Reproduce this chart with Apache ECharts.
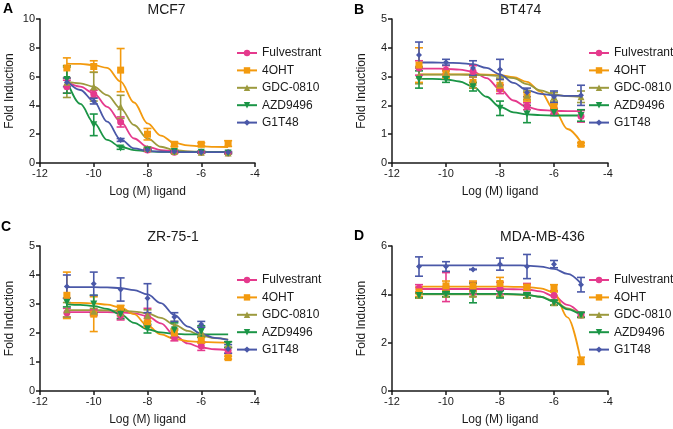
<!DOCTYPE html>
<html>
<head>
<meta charset="utf-8">
<script src="https://cdn.jsdelivr.net/npm/echarts@6/dist/echarts.min.js"></script>
<style>
html, body { margin: 0; padding: 0; background: #fff; }
#container { width: 673px; height: 429px; }
</style>
</head>
<body>
<div id="container"></div>
<script>
// dose points (log M) and the x positions used to trace the fitted curves
var doses = [-11, -10, -9, -8, -7, -6, -5];
var curveX = [-11, -10.5, -10, -9.5, -9, -8.5, -8, -7.5, -7, -6.5, -6, -5.5, -5];

var drugs = ['Fulvestrant', '4OHT', 'GDC-0810', 'AZD9496', 'G1T48'];
var colors = ['#e53a8d', '#f39a0e', '#9c9a3e', '#1b9546', '#4a58a8'];
var symbols = ['circle', 'rect', 'triangle', 'triangle', 'diamond'];
var rotates = [0, 0, 0, 180, 0];

var panelTitles = ['MCF7', 'BT474', 'ZR-75-1', 'MDA-MB-436'];
var panelLetters = ['A', 'B', 'C', 'D'];
var yMax = [10, 5, 5, 6];
var yStep = [2, 1, 1, 2];

// A: MCF7
var mcf7Mean = [
    [5.3, 4.8, 2.85, 0.9, 0.75, 0.75, 0.7],
    [6.6, 6.7, 6.45, 2.0, 1.3, 1.3, 1.35],
    [5.6, 5.3, 3.9, 1.0, 0.8, 0.75, 0.7],
    [5.8, 2.65, 1.05, 0.9, 0.8, 0.75, 0.7],
    [5.6, 4.3, 1.6, 0.9, 0.8, 0.75, 0.75]
];
var mcf7Err = [
    [0.45, 0.25, 0.35, 0.1, 0.08, 0.05, 0.05],
    [0.7, 0.4, 1.5, 0.4, 0.15, 0.1, 0.2],
    [1.05, 1.0, 0.8, 0.1, 0.1, 0.05, 0.05],
    [0.95, 0.75, 0.1, 0.05, 0.05, 0.05, 0.05],
    [0.3, 0.2, 0.1, 0.05, 0.05, 0.05, 0.05]
];
var mcf7Fit = [
    [5.65, 5.3, 4.84, 3.9, 2.87, 1.7, 1.13, 0.9, 0.83, 0.78, 0.76, 0.75, 0.75],
    [6.9, 6.88, 6.8, 6.6, 5.65, 4.2, 2.75, 1.9, 1.4, 1.23, 1.15, 1.12, 1.11],
    [5.65, 5.53, 5.3, 4.72, 3.8, 2.64, 1.71, 1.13, 0.9, 0.81, 0.78, 0.76, 0.75],
    [5.75, 4.1, 2.8, 1.6, 1.13, 0.9, 0.81, 0.78, 0.76, 0.75, 0.75, 0.75, 0.75],
    [5.7, 5.07, 4.3, 2.87, 1.64, 1.02, 0.83, 0.78, 0.76, 0.75, 0.75, 0.75, 0.75]
];

// B: BT474
var bt474Mean = [
    [3.3, 3.23, 3.18, 2.56, 1.97, 1.8, 1.62],
    [3.4, 3.1, 2.8, 2.7, 2.3, 1.95, 0.65],
    [3.05, 3.1, 2.8, 2.75, 2.35, 2.3, 2.3],
    [2.9, 2.9, 2.65, 1.9, 1.7, 1.75, 1.65],
    [3.75, 3.5, 3.3, 3.25, 2.45, 2.3, 2.35]
];
var bt474Err = [
    [0.25, 0.15, 0.2, 0.15, 0.12, 0.1, 0.2],
    [0.6, 0.15, 0.2, 0.2, 0.15, 0.1, 0.05],
    [0.3, 0.1, 0.2, 0.2, 0.15, 0.15, 0.2],
    [0.3, 0.1, 0.15, 0.25, 0.3, 0.1, 0.2],
    [0.45, 0.1, 0.25, 0.35, 0.15, 0.2, 0.35]
];
var bt474Fit = [
    [3.28, 3.28, 3.27, 3.24, 3.17, 2.95, 2.56, 2.17, 1.94, 1.84, 1.81, 1.8, 1.8],
    [3.08, 3.08, 3.08, 3.08, 3.08, 3.07, 3.05, 2.98, 2.82, 2.48, 1.86, 1.18, 0.72],
    [3.07, 3.07, 3.07, 3.07, 3.06, 3.05, 3.02, 2.95, 2.74, 2.52, 2.38, 2.32, 2.3],
    [2.93, 2.92, 2.9, 2.83, 2.65, 2.3, 1.95, 1.76, 1.69, 1.66, 1.65, 1.65, 1.65],
    [3.49, 3.49, 3.48, 3.47, 3.43, 3.3, 3.08, 2.78, 2.53, 2.4, 2.35, 2.33, 2.33]
];

// C: ZR-75-1
var zr751Mean = [
    [2.7, 2.7, 2.6, 2.55, 1.85, 1.55, 1.4],
    [3.3, 2.65, 2.85, 2.35, 2.0, 1.75, 1.15],
    [2.8, 2.75, 2.7, 2.6, 2.25, 2.05, 1.6],
    [3.05, 3.0, 2.65, 2.15, 2.1, 2.05, 1.6],
    [3.6, 3.7, 3.5, 3.2, 2.55, 2.3, 1.45]
];
var zr751Err = [
    [0.15, 0.1, 0.15, 0.3, 0.12, 0.15, 0.1],
    [0.8, 0.6, 0.1, 0.15, 0.15, 0.1, 0.05],
    [0.25, 0.1, 0.1, 0.2, 0.15, 0.15, 0.1],
    [0.15, 0.3, 0.15, 0.15, 0.25, 0.2, 0.1],
    [0.4, 0.4, 0.4, 0.5, 0.15, 0.1, 0.15]
];
var zr751Fit = [
    [2.72, 2.72, 2.72, 2.72, 2.71, 2.68, 2.58, 2.33, 1.93, 1.64, 1.5, 1.44, 1.41],
    [3.05, 3.04, 3.02, 2.98, 2.88, 2.65, 2.25, 1.95, 1.8, 1.72, 1.69, 1.68, 1.67],
    [2.79, 2.79, 2.79, 2.78, 2.77, 2.74, 2.68, 2.52, 2.29, 2.07, 1.91, 1.82, 1.77],
    [2.99, 2.97, 2.93, 2.83, 2.64, 2.35, 2.13, 2.02, 1.97, 1.95, 1.95, 1.95, 1.95],
    [3.58, 3.58, 3.58, 3.57, 3.55, 3.48, 3.33, 3.03, 2.62, 2.22, 1.97, 1.83, 1.76]
];

// D: MDA-MB-436
var mdaMean = [
    [4.25, 4.3, 4.25, 4.25, 4.3, 3.95, 3.15],
    [4.1, 4.35, 4.35, 4.45, 4.3, 4.25, 1.25],
    [3.95, 4.0, 4.0, 4.05, 3.95, 3.65, 3.15],
    [3.95, 4.0, 4.05, 4.0, 3.95, 3.65, 3.15],
    [5.15, 5.15, 5.03, 5.25, 5.15, 5.25, 4.4]
];
var mdaErr = [
    [0.15, 0.6, 0.25, 0.25, 0.15, 0.2, 0.1],
    [0.2, 0.2, 0.2, 0.25, 0.1, 0.15, 0.15],
    [0.1, 0.1, 0.1, 0.15, 0.1, 0.1, 0.1],
    [0.1, 0.1, 0.4, 0.15, 0.1, 0.1, 0.1],
    [0.4, 0.2, 0, 0.25, 0.5, 0.15, 0.3]
];
var mdaFit = [
    [4.22, 4.22, 4.22, 4.22, 4.22, 4.22, 4.22, 4.21, 4.2, 4.12, 3.92, 3.56, 3.15],
    [4.32, 4.32, 4.32, 4.32, 4.32, 4.32, 4.32, 4.31, 4.3, 4.25, 4.08, 3.05, 1.21],
    [4.0, 4.0, 4.0, 4.0, 4.0, 4.0, 4.0, 3.99, 3.97, 3.9, 3.72, 3.42, 3.15],
    [4.02, 4.02, 4.02, 4.02, 4.02, 4.02, 4.02, 4.01, 3.98, 3.9, 3.7, 3.38, 3.13],
    [5.2, 5.2, 5.2, 5.2, 5.2, 5.2, 5.2, 5.2, 5.19, 5.15, 5.05, 4.85, 4.45]
];

var panelMean = [mcf7Mean, bt474Mean, zr751Mean, mdaMean];
var panelErr = [mcf7Err, bt474Err, zr751Err, mdaErr];
var panelFit = [mcf7Fit, bt474Fit, zr751Fit, mdaFit];

var grids = [
    {left: 40, top: 19, width: 215, height: 144},
    {left: 392, top: 19, width: 216, height: 144},
    {left: 40, top: 246, width: 215, height: 145},
    {left: 392, top: 246, width: 216, height: 145}
];
// panel letters sit a little differently in each quadrant
var letterPos = [[3, 2], [354, 3], [1, 220], [354, 229]];

var dom = document.getElementById('container');
var myChart = echarts.init(dom, null, {renderer: 'canvas'});

var axisColor = '#1a1a1a';
var xAxes = [], yAxes = [], series = [], legends = [], graphics = [];

for (var p = 0; p < 4; p++) {
    var g = grids[p];
    xAxes.push({
        gridIndex: p, type: 'value', min: -12, max: -4, interval: 2,
        name: 'Log (M) ligand', nameLocation: 'middle', nameGap: 23,
        nameTextStyle: {fontSize: 12, color: '#1a1a1a', fontFamily: 'Liberation Sans'},
        axisLine: {onZero: false, lineStyle: {color: axisColor, width: 1.5}},
        axisTick: {show: true, length: 4, lineStyle: {color: axisColor, width: 1.5}},
        axisLabel: {fontSize: 11, color: '#1a1a1a', margin: 5, fontFamily: 'Liberation Sans'},
        splitLine: {show: false}
    });
    yAxes.push({
        gridIndex: p, type: 'value', min: 0, max: yMax[p], interval: yStep[p],
        name: 'Fold Induction', nameLocation: 'middle', nameGap: 24, nameRotate: 90,
        nameTextStyle: {fontSize: 12, color: '#1a1a1a', fontFamily: 'Liberation Sans'},
        axisLine: {show: true, lineStyle: {color: axisColor, width: 1.5}},
        axisTick: {show: true, length: 4, lineStyle: {color: axisColor, width: 1.5}},
        axisLabel: {fontSize: 11, color: '#1a1a1a', margin: 5, fontFamily: 'Liberation Sans'},
        splitLine: {show: false}
    });
    legends.push({
        data: drugs, orient: 'vertical', left: g.left + 196, top: g.top + 28,
        itemWidth: 20, itemHeight: 8, itemGap: 5.4, padding: 0,
        textStyle: {fontSize: 12, color: '#1a1a1a', fontFamily: 'Liberation Sans', lineHeight: 12},
        selectedMode: false
    });
    graphics.push({
        type: 'text', left: g.left + g.width / 2, top: g.top - 16,
        style: {text: panelTitles[p], fontSize: 14, fill: '#1a1a1a', fontFamily: 'Liberation Sans', textAlign: 'center'}
    });
    graphics.push({
        type: 'text', left: letterPos[p][0], top: letterPos[p][1],
        style: {text: panelLetters[p], fontSize: 14, fontWeight: 'bold', fill: '#000', fontFamily: 'Liberation Sans'}
    });

    for (var d = 0; d < drugs.length; d++) {
        var fit = panelFit[p][d].map(function (v, i) { return [curveX[i], v]; });
        series.push({
            name: drugs[d], type: 'line', xAxisIndex: p, yAxisIndex: p,
            data: fit, smooth: 0.35, smoothMonotone: 'x', showSymbol: false,
            symbol: symbols[d], symbolSize: 7, symbolRotate: rotates[d],
            lineStyle: {color: colors[d], width: 1.8}, itemStyle: {color: colors[d]},
            z: 3, silent: true
        });
        var errData = panelMean[p][d].map(function (v, i) { return [doses[i], v, panelErr[p][d][i]]; });
        series.push({
            type: 'custom', xAxisIndex: p, yAxisIndex: p, data: errData, z: 4, silent: true,
            renderItem: (function (col) {
                return function (params, api) {
                    var x = api.value(0), y = api.value(1), e = api.value(2);
                    var hi = api.coord([x, y + e]), lo = api.coord([x, y - e]);
                    var cw = 4;
                    var st = {stroke: col, lineWidth: 1.6};
                    return {type: 'group', children: [
                        {type: 'line', shape: {x1: hi[0], y1: hi[1], x2: lo[0], y2: lo[1]}, style: st},
                        {type: 'line', shape: {x1: hi[0] - cw, y1: hi[1], x2: hi[0] + cw, y2: hi[1]}, style: st},
                        {type: 'line', shape: {x1: lo[0] - cw, y1: lo[1], x2: lo[0] + cw, y2: lo[1]}, style: st}
                    ]};
                };
            })(colors[d])
        });
        series.push({
            type: 'scatter', xAxisIndex: p, yAxisIndex: p,
            data: panelMean[p][d].map(function (v, i) { return [doses[i], v]; }),
            symbol: symbols[d], symbolSize: d === 4 ? 6 : 7, symbolRotate: rotates[d],
            itemStyle: {color: colors[d], opacity: 1}, z: 5, silent: true
        });
    }
}

var option = {
    backgroundColor: '#fff',
    animation: false,
    grid: grids,
    xAxis: xAxes,
    yAxis: yAxes,
    legend: legends,
    graphic: graphics,
    series: series
};
myChart.setOption(option);
</script>
</body>
</html>
